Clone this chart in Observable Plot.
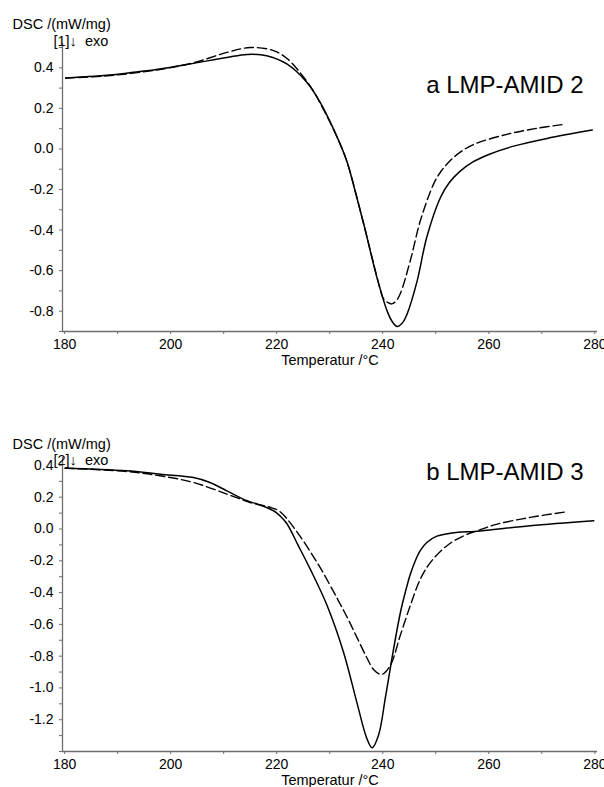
<!DOCTYPE html>
<html><head><meta charset="utf-8">
<script src="https://cdn.jsdelivr.net/npm/d3@7"></script>
<script src="https://cdn.jsdelivr.net/npm/@observablehq/plot@0.6"></script>
<style>
html,body{margin:0;padding:0;background:#fff}
body{width:604px;height:787px;overflow:hidden;position:relative;font-family:"Liberation Sans",Arial,sans-serif}
#a{position:absolute;left:0;top:0}
#b{position:absolute;left:0;top:400px}
</style></head><body><div id="a"></div><div id="b"></div>
<script>
// ---- data ----
const xMinorTicks = [180,190,200,210,220,230,240,250,260,270,280];
const xLabelTicks = [180,200,220,240,260,280];

// Panel a: LMP-AMID 2
const aSolidT = [180.2,184,188.6,193,198,204.3,210.6,214.4,218.1,221.9,225.7,228.2,230.7,233.2,234.8,236.4,238.9,240.8,241.8,242.7,243.7,244.6,246.5,248.3,250.9,252.5,254.5,257,260,264.7,271.0,279.5];
const aSolidV = [0.350,0.356,0.365,0.378,0.394,0.422,0.451,0.466,0.460,0.419,0.328,0.230,0.099,-0.058,-0.210,-0.369,-0.633,-0.797,-0.852,-0.875,-0.858,-0.813,-0.649,-0.435,-0.238,-0.168,-0.112,-0.064,-0.027,0.014,0.052,0.093];
const aDashT = [180.2,188.6,198,204.3,210.6,215.0,219.4,222.0,224.4,226.9,228.2,230.7,233.2,236.4,238.6,239.5,240.1,241.0,241.7,242.5,243.3,245.2,247.1,249.6,251.0,252.7,254.5,257.1,263.4,269.1,273.8];
const aDashV = [0.350,0.362,0.392,0.425,0.476,0.500,0.485,0.445,0.377,0.287,0.225,0.097,-0.060,-0.370,-0.600,-0.690,-0.737,-0.758,-0.764,-0.750,-0.714,-0.550,-0.353,-0.172,-0.110,-0.058,-0.018,0.022,0.072,0.102,0.120];
const aYMinor = [-0.9,-0.8,-0.7,-0.6,-0.5,-0.4,-0.3,-0.2,-0.1,0,0.1,0.2,0.3,0.4,0.5];
const aYLabels = [-0.8,-0.6,-0.4,-0.2,0,0.2,0.4];

// Panel b: LMP-AMID 3
const bSolidT = [180.1,186,191.7,198.1,204.3,207.4,210.6,214.4,216.3,219.4,220.6,221.9,224.0,226.3,229.5,232.6,235.1,237.0,238.0,239.2,240.5,241.7,243.3,244.3,245.2,246.2,247.1,248.3,250.2,253.0,258.4,267.8,279.8];
const bSolidV = [0.383,0.376,0.366,0.345,0.324,0.293,0.240,0.178,0.157,0.115,0.083,0.035,-0.100,-0.251,-0.481,-0.775,-1.089,-1.318,-1.377,-1.298,-1.060,-0.820,-0.530,-0.392,-0.285,-0.195,-0.135,-0.085,-0.045,-0.025,-0.012,0.021,0.052];
const bDashT = [180.1,191.7,198.0,204.3,210.6,215.0,218.8,220.6,223.2,227.6,231.3,233.5,235.1,237.0,238.3,239.8,241.4,243.3,245.2,247.1,249.0,252.1,255.3,257.8,261.6,267.8,274.8];
const bDashV = [0.383,0.362,0.335,0.293,0.220,0.167,0.136,0.110,0.010,-0.210,-0.430,-0.570,-0.680,-0.810,-0.885,-0.915,-0.860,-0.670,-0.481,-0.314,-0.210,-0.105,-0.042,-0.011,0.031,0.073,0.109];
const bYMinor = [-1.4,-1.3,-1.2,-1.1,-1.0,-0.9,-0.8,-0.7,-0.6,-0.5,-0.4,-0.3,-0.2,-0.1,0,0.1,0.2,0.3,0.4];
const bYLabels = [-1.2,-1.0,-0.8,-0.6,-0.4,-0.2,0,0.2,0.4];

const xDomain = [179.6, 280.5];
const axisGray = "#6e6e6e";

function panel(o) {
  const solid = o.solidT.map((t, i) => ({t, v: o.solidV[i]}));
  const dash = o.dashT.map((t, i) => ({t, v: o.dashV[i]}));
  return Plot.plot({
    width: 604, height: o.height,
    marginLeft: 62, marginRight: 7, marginTop: o.marginTop, marginBottom: o.marginBottom,
    x: {domain: xDomain, label: null},
    y: {domain: o.yDomain, label: null},
    style: {fontFamily: '"Liberation Sans", Arial, sans-serif', fontSize: "14px", background: "white", color: "black"},
    marks: [
      Plot.ruleX([xDomain[0]], {stroke: axisGray, strokeWidth: 1.3}),
      Plot.ruleY([o.yDomain[0]], {stroke: axisGray, strokeWidth: 1.3}),
      Plot.axisX(xMinorTicks, {tickSize: 3, stroke: axisGray, tickFormat: () => "", label: null}),
      Plot.axisX(xLabelTicks, {tickSize: 0, tickPadding: 8, tickFormat: d => String(d), label: null, fill: "black"}),
      Plot.axisY(o.yMinor, {tickSize: 3, stroke: axisGray, tickFormat: () => "", label: null}),
      Plot.axisY(o.yLabels, {tickSize: 0, tickPadding: 9, tickFormat: d => d.toFixed(1), label: null, fill: "black"}),
      Plot.line(solid, {x: "t", y: "v", curve: "catmull-rom", stroke: "black", strokeWidth: 1.5}),
      Plot.line(dash, {x: "t", y: "v", curve: "catmull-rom", stroke: "black", strokeWidth: 1.4, strokeDasharray: "9,4"}),
      Plot.text([o.title], {frameAnchor: "top-right", dx: -14, dy: o.titleDy, textAnchor: "end", fontSize: 24, fill: "black"}),
      Plot.text(["DSC /(mW/mg)"], {frameAnchor: "top-left", dx: -50, dy: o.dscDy, textAnchor: "start", fontSize: 14.5, fill: "black"}),
      Plot.text([o.code], {frameAnchor: "top-left", dx: -9, dy: o.exoDy, textAnchor: "start", fontSize: 14.5, fill: "black"}),
      Plot.text(["Temperatur /°C"], {frameAnchor: "bottom", dy: 33, fontSize: 14.5, fill: "black"})
    ]
  });
}

document.getElementById("a").append(panel({
  solidT: aSolidT, solidV: aSolidV, dashT: aDashT, dashV: aDashV,
  yDomain: [-0.9, 0.52], yMinor: aYMinor, yLabels: aYLabels,
  height: 380, marginTop: 43, marginBottom: 49,
  title: "a LMP-AMID 2", code: "[1]\u2193\u00a0\u00a0exo",
  titleDy: 32, dscDy: -25, exoDy: -8
}));
document.getElementById("b").append(panel({
  solidT: bSolidT, solidV: bSolidV, dashT: bDashT, dashV: bDashV,
  yDomain: [-1.4, 0.45], yMinor: bYMinor, yLabels: bYLabels,
  height: 387, marginTop: 57, marginBottom: 36,
  title: "b LMP-AMID 3", code: "[2]\u2193\u00a0\u00a0exo",
  titleDy: 5, dscDy: -19, exoDy: -3
}));
</script>
</body></html>
